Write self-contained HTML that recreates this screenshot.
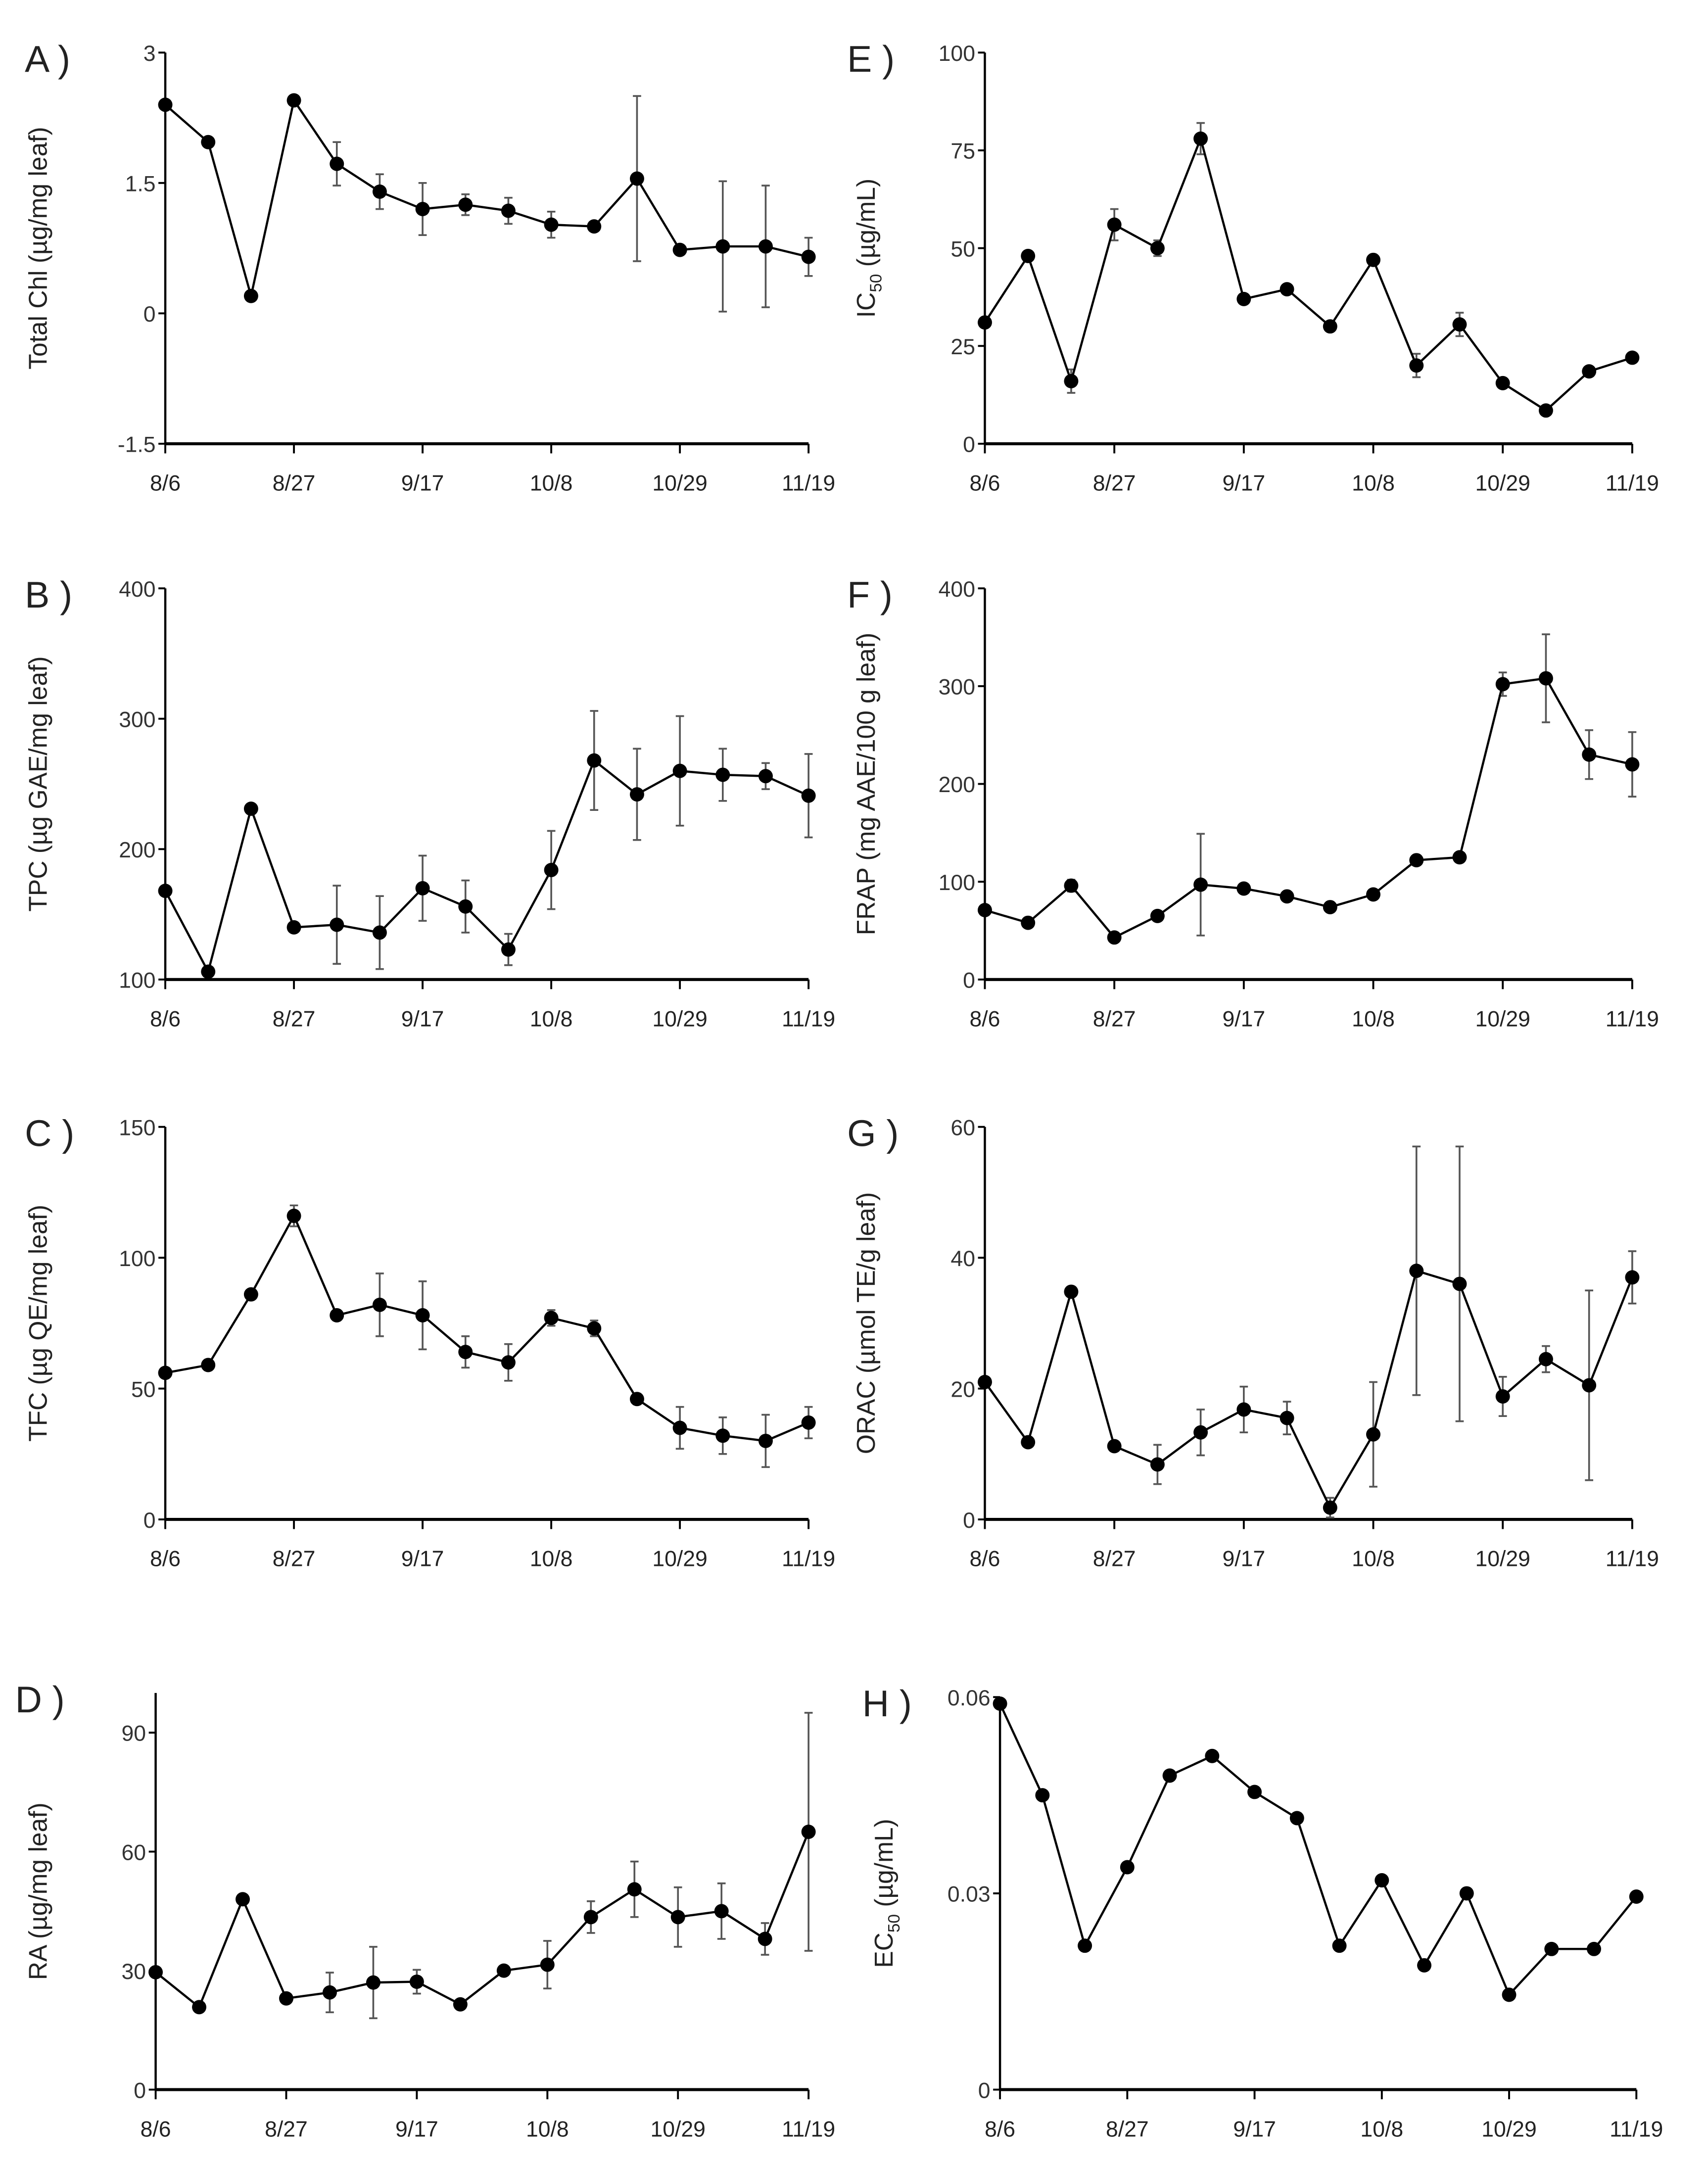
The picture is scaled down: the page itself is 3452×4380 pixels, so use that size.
<!DOCTYPE html>
<html><head><meta charset="utf-8"><style>
html,body{margin:0;padding:0;background:#fff}
svg{display:block}
text{font-family:"Liberation Sans",sans-serif}
</style></head><body>
<svg id="fig" width="3452" height="4380" viewBox="0 0 1240 1573" xmlns="http://www.w3.org/2000/svg"></svg>
<script>
const dateLabels = ["8/6","8/27","9/17","10/8","10/29","11/19"];
const chlVals = [2.4,1.97,0.2,2.45,1.72,1.4,1.2,1.25,1.18,1.02,1.0,1.55,0.73,0.77,0.77,0.65];
const chlErr  = [0,0,0,0,0.25,0.2,0.3,0.12,0.15,0.15,0,0.95,0,0.75,0.7,0.22];
const tpcVals = [168,106,231,140,142,136,170,156,123,184,268,242,260,257,256,241];
const tpcErr  = [0,0,0,0,30,28,25,20,12,30,38,35,42,20,10,32];
const tfcVals = [56,59,86,116,78,82,78,64,60,77,73,46,35,32,30,37];
const tfcErr  = [0,2,0,4,2,12,13,6,7,3,3,2,8,7,10,6];
const raVals  = [29.6,20.8,48,23,24.5,27,27.2,21.5,30,31.5,43.5,50.5,43.5,45,38,65];
const raErr   = [0,0,0,0,5,9,3,0,0,6,4,7,7.5,7,4,30];
const icVals  = [31,48,16,56,50,78,37,39.5,30,47,20,30.5,15.5,8.5,18.5,22];
const icErr   = [0,0,3,4,2,4,0,0,0,0,3,3,0,0,0,0];
const frapVals= [71,58,96,43,65,97,93,85,74,87,122,125,302,308,230,220];
const frapErr = [0,0,6,0,0,52,0,0,0,0,0,0,12,45,25,33];
const oracVals= [21,11.8,34.8,11.2,8.4,13.3,16.8,15.5,1.8,13,38,36,18.8,24.5,20.5,37];
const oracErr = [0,0,0,0,3,3.5,3.5,2.5,1.5,8,19,21,3,2,14.5,4];
const ecVals  = [0.059,0.045,0.022,0.034,0.048,0.051,0.0455,0.0415,0.022,0.032,0.019,0.030,0.0145,0.0215,0.0215,0.0295];
const ecErr   = [0,0,0,0,0,0,0,0,0,0,0,0,0,0,0,0];

const panels = [
 {id:"A",x0:120,x1:587,top:38,bot:322,min:-1.5,max:3,ticks:[-1.5,0,1.5,3],lab:["-1.5","0","1.5","3"],v:chlVals,e:chlErr,title:"Total Chl (µg/mg leaf)",lx:34},
 {id:"B",x0:120,x1:587,top:427,bot:711,min:100,max:400,ticks:[100,200,300,400],lab:["100","200","300","400"],v:tpcVals,e:tpcErr,title:"TPC  (µg GAE/mg leaf)",lx:34},
 {id:"C",x0:120,x1:587,top:818,bot:1103,min:0,max:150,ticks:[0,50,100,150],lab:["0","50","100","150"],v:tfcVals,e:tfcErr,title:"TFC (µg QE/mg leaf)",lx:34},
 {id:"D",x0:113,x1:587,top:1229,bot:1517,min:0,max:100,ticks:[0,30,60,90],lab:["0","30","60","90"],v:raVals,e:raErr,title:"RA (µg/mg leaf)",lx:34},
 {id:"E",x0:715,x1:1185,top:38,bot:322,min:0,max:100,ticks:[0,25,50,75,100],lab:["0","25","50","75","100"],v:icVals,e:icErr,title:"IC|50| (µg/mL)",lx:635},
 {id:"F",x0:715,x1:1185,top:427,bot:711,min:0,max:400,ticks:[0,100,200,300,400],lab:["0","100","200","300","400"],v:frapVals,e:frapErr,title:"FRAP  (mg AAE/100 g leaf)",lx:635},
 {id:"G",x0:715,x1:1185,top:818,bot:1103,min:0,max:60,ticks:[0,20,40,60],lab:["0","20","40","60"],v:oracVals,e:oracErr,title:"ORAC (µmol TE/g leaf)",lx:635},
 {id:"H",x0:726,x1:1188,top:1232,bot:1517,min:0,max:0.06,ticks:[0,0.03,0.06],lab:["0","0.03","0.06"],v:ecVals,e:ecErr,title:"EC|50| (µg/mL)",lx:648}
];
const NS="http://www.w3.org/2000/svg";
const svg=document.getElementById("fig");
function mk(tag,attrs,parent){const el=document.createElementNS(NS,tag);for(const k in attrs)el.setAttribute(k,attrs[k]);(parent||svg).appendChild(el);return el;}

panels.forEach(p=>{
  const g=mk("g",{});
  
  
  const n=p.v.length;
  const xs=i=>p.x0+(p.x1-p.x0)*i/(n-1);
  const ys=v=>p.bot-(v-p.min)/(p.max-p.min)*(p.bot-p.top);
  // panel letter
  const L=mk("text",{x:p.x0-102+(p.x0>600?-2:0),y:p.top+14,"font-size":27,fill:"#222"},g);
  L.textContent=p.id+" )";
  
  
  if(p.x0>600){L.setAttribute('x',p.x0-100);}
  // axes
  const ya=mk("line",{x1:p.x0,y1:p.top,x2:p.x0,y2:p.bot,stroke:"#000","stroke-width":1.6},g);
  
  
  const xa=mk("line",{x1:p.x0,y1:p.bot,x2:p.x1,y2:p.bot,stroke:"#000","stroke-width":2.2},g);
  
  
  p.ticks.forEach((t,i)=>{
    const y=ys(t);
    mk("line",{x1:p.x0-5,y1:y,x2:p.x0,y2:y,stroke:"#000","stroke-width":1.4},g);
    const tl=mk("text",{x:p.x0-7,y:y+6,"font-size":16,"text-anchor":"end",fill:"#333"},g);
    tl.textContent=p.lab[i];
    
    
  });
  dateLabels.forEach((d,i)=>{
    const x=xs(i*3);
    mk("line",{x1:x,y1:p.bot,x2:x,y2:p.bot+7,stroke:"#000","stroke-width":1.4},g);
    const tl=mk("text",{x:x,y:p.bot+34,"font-size":16,"text-anchor":"middle",fill:"#222"},g);
    tl.textContent=d;
    
    
  });
  // y title
  const cy=(p.top+p.bot)/2;
  const tt=mk("text",{x:p.lx,y:cy,"font-size":18.5,"text-anchor":"middle",fill:"#222",transform:`rotate(-90 ${p.lx} ${cy})`},g);
  
  
  const parts=p.title.split("|");
  if(parts.length===3){
    tt.appendChild(document.createTextNode(parts[0]));
    const s=mk("tspan",{"font-size":12,dy:5},tt);s.textContent=parts[1];
    const r=mk("tspan",{dy:-5},tt);r.textContent=parts[2];
  } else tt.textContent=p.title;
  // error bars
  p.v.forEach((v,i)=>{
    const e=p.e[i]; if(!e) return;
    const x=xs(i),y1=ys(v+e),y2=ys(v-e);
    const eb=mk("path",{d:`M${x},${y1}V${y2}M${x-3},${y1}H${x+3}M${x-3},${y2}H${x+3}`,stroke:"#555","stroke-width":1.3,fill:"none"},g);
    
    
  });
  // line
  const ln=mk("polyline",{points:p.v.map((v,i)=>xs(i)+","+ys(v)).join(" "),stroke:"#000","stroke-width":1.6,fill:"none"},g);
  
  
  p.v.forEach((v,i)=>{
    const c=mk("circle",{cx:xs(i),cy:ys(v),r:5.2,fill:"#000"},g);
    
    
  });
});
</script>
</body></html>
